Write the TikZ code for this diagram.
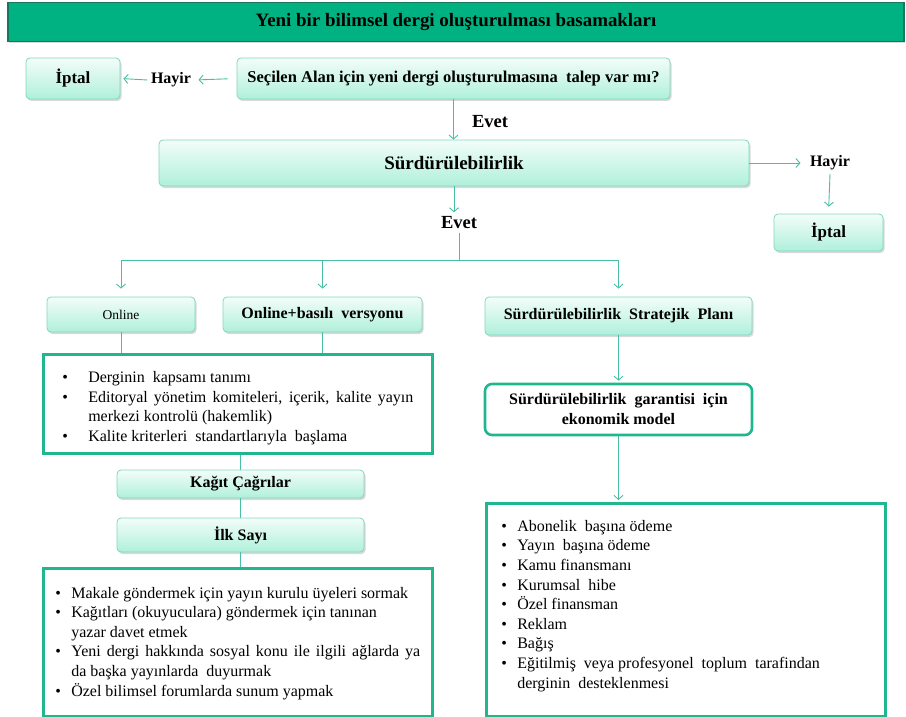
\documentclass[tikz,border=0pt]{standalone}
\usepackage{fontspec}
\setmainfont{Liberation Serif}
\usetikzlibrary{arrows.meta}
\usetikzlibrary{shadows}

\definecolor{bandfill}{RGB}{0,178,130}
\definecolor{banddraw}{RGB}{24,118,92}
\definecolor{okcol}{RGB}{72,190,164}
\definecolor{kenar}{RGB}{128,214,192}
\definecolor{mintust}{RGB}{243,253,249}
\definecolor{mintalt}{RGB}{175,240,219}
\definecolor{kalin}{RGB}{32,182,142}

\newcommand{\madde}[2][26pt]{\par\hangindent=#1\hangafter=1\noindent\makebox[#1][l]{\textbullet}#2}

\begin{document}
\begin{tikzpicture}[x=1pt,y=-1pt,
  kutu/.style={draw=kenar, line width=0.8pt, rounded corners=4pt, top color=mintust, bottom color=mintalt,
    drop shadow={shadow xshift=1.5pt, shadow yshift=-2pt, opacity=0.3}, font=\bfseries\fontsize{16}{19}\selectfont, inner sep=0pt},
  liste/.style={draw=kalin, line width=2.6pt, fill=white, anchor=north west, align=justify,
    font=\fontsize{16}{19.6}\selectfont, inner ysep=0pt},
  etiket/.style={font=\bfseries\fontsize{16}{20}\selectfont},
  ok/.style={draw=okcol, line width=0.9pt, -{Straight Barb[length=4pt,width=9pt]}},
  hat/.style={draw=okcol, line width=0.9pt}]
\useasboundingbox (0,0) rectangle (906,717);

% baslik
\node[draw=banddraw, line width=1.5pt, fill=bandfill, minimum width=896pt, minimum height=39pt, inner sep=0pt,
  drop shadow={shadow xshift=1pt, shadow yshift=-1.5pt, opacity=0.3},
  font=\bfseries\fontsize{18.9}{22}\selectfont] (baslik) at (456,22) {Yeni bir bilimsel dergi oluşturulması basamakları};

% ust kisim
\node[kutu, minimum width=433pt, minimum height=41pt, font=\bfseries\fontsize{16.5}{19}\selectfont] (soru) at (453.5,78.5)
  {Seçilen Alan için yeni dergi oluşturulmasına\ \ talep var mı?};
\node[etiket] (hayirA) at (171,80) {Hayir};
\node[kutu, minimum width=94pt, minimum height=41pt, font=\bfseries\fontsize{17}{20}\selectfont] (iptalA) at (73,78.5) {İptal};
\node[kutu, minimum width=590pt, minimum height=46pt, font=\bfseries\fontsize{19}{22}\selectfont] (sur) at (454,163) {Sürdürülebilirlik};
\node[etiket, font=\bfseries\fontsize{18.5}{22}\selectfont] (evetA) at (490,122) {Evet};
\node[etiket] (hayirB) at (830,163) {Hayir};
\node[kutu, minimum width=109pt, minimum height=37pt, font=\bfseries\fontsize{17}{20}\selectfont] (iptalB) at (828.5,232.5) {İptal};
\node[etiket, font=\bfseries\fontsize{18.5}{22}\selectfont] (evetB) at (459,223) {Evet};
\coordinate (dal) at (459,260);

% ikinci sira
\node[kutu, minimum width=148pt, minimum height=35pt, font=\fontsize{13.5}{16}\selectfont] (online) at (121,314.5) {Online};
\node[kutu, minimum width=199pt, minimum height=35pt] (basili) at (322.5,314.5) {Online+basılı\ \ versyonu};
\node[kutu, minimum width=267pt, minimum height=38pt] (strat) at (618.5,316) {Sürdürülebilirlik\ \ Stratejik\ \ Planı};

% sol sutun
\node[liste, minimum width=389pt, minimum height=99pt, text width=351pt, inner xsep=19pt] (liste1) at (42,353) {%
  \madde{Derginin\ \ kapsamı tanımı}
  \madde{Editoryal yönetim komiteleri, içerik, kalite yayın\linebreak merkezi kontrolü (hakemlik)}
  \madde{Kalite kriterleri\ \ standartlarıyla\ \ başlama}\par};
\node[kutu, minimum width=247pt, minimum height=28pt] (kagit) at (240.5,484) {Kağıt Çağrılar};
\node[kutu, minimum width=247pt, minimum height=34pt] (ilk) at (240.5,535) {İlk Sayı};
\node[liste, minimum width=389pt, minimum height=148pt, text width=365pt, inner xsep=12pt] (liste2) at (42,567) {%
  \madde[16pt]{Makale göndermek için yayın kurulu üyeleri sormak}
  \madde[16pt]{Kağıtları (okuyuculara) göndermek için tanınan\newline yazar davet etmek}
  \madde[16pt]{Yeni dergi hakkında sosyal konu ile ilgili ağlarda ya\linebreak da başka yayınlarda\ \ duyurmak}
  \madde[16pt]{Özel bilimsel forumlarda sunum yapmak\rule[-10pt]{0pt}{0pt}}\par};

% sag sutun
\node[draw=kalin, line width=2.6pt, fill=white, rounded corners=7pt, minimum width=267pt, minimum height=51pt, align=center,
  font=\bfseries\fontsize{16}{20}\selectfont] (garanti) at (618.5,409.5) {Sürdürülebilirlik\ \ garantisi\ \ için\\ekonomik model};
\node[liste, minimum width=399pt, minimum height=213pt, text width=369pt, inner xsep=15pt] (liste3) at (485,502) {%
  \madde[16pt]{Abonelik\ \ başına ödeme}
  \madde[16pt]{Yayın\ \ başına ödeme}
  \madde[16pt]{Kamu finansmanı}
  \madde[16pt]{Kurumsal\ \ hibe}
  \madde[16pt]{Özel finansman}
  \madde[16pt]{Reklam}
  \madde[16pt]{Bağış}
  \madde[16pt]{Eğitilmiş\ \ veya profesyonel\ \ toplum\ \ tarafindan\newline derginin\ \ desteklenmesi\rule[-20pt]{0pt}{0pt}}\par};

% oklar
\draw[ok, shorten <=9pt, shorten >=4pt] (soru.west) -- (hayirA.east);
\draw[ok, shorten >=3pt] (hayirA.west) -- (iptalA.east);
\draw[ok] (soru.south) -- (soru.south |- sur.north);
\draw[ok, shorten >=6pt] (sur.east) -- (hayirB.west);
\draw[ok, shorten >=7pt] (hayirB.south) -- (iptalB.north);
\draw[ok, shorten >=1pt] (sur.south) -- (sur.south |- evetB.north);
\draw[hat] (evetB.south) -- (dal);
\draw[hat] (online.north |- dal) -- (strat.north |- dal);
\draw[ok, shorten >=8pt] (online.north |- dal) -- (online.north);
\draw[ok, shorten >=8pt] (basili.north |- dal) -- (basili.north);
\draw[ok, shorten >=8pt] (strat.north |- dal) -- (strat.north);
\draw[hat] (online.south) -- (online.south |- liste1.north);
\draw[hat] (basili.south) -- (basili.south |- liste1.north);
\draw[hat] (kagit.north |- liste1.south) -- (kagit.north);
\draw[hat] (kagit.south) -- (ilk.north);
\draw[hat] (ilk.south) -- (ilk.south |- liste2.north);
\draw[ok, shorten >=2pt] (strat.south) -- (garanti.north);
\draw[ok, shorten >=2pt] (garanti.south) -- (garanti.south |- liste3.north);
%\draw[hat] (liste1.east) -- (garanti.west);
\end{tikzpicture}
\end{document}
